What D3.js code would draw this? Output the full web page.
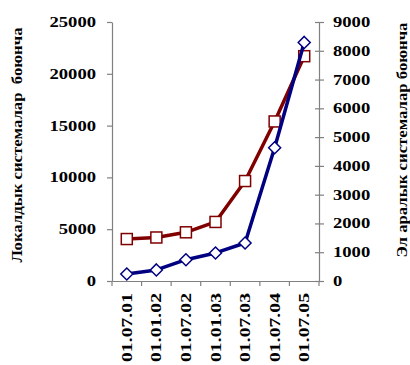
<!DOCTYPE html>
<html><head><meta charset="utf-8">
<script src="https://cdn.jsdelivr.net/npm/d3@7"></script>
<style>body{margin:0;background:#fff}svg{display:block}</style>
</head><body>
<script>
const categories = ["01.07.01","01.01.02","01.07.02","01.01.03","01.07.03","01.07.04","01.07.05"];
const localValues = [4050, 4200, 4700, 5700, 9650, 15400, 21700];
const intlValues = [245, 385, 740, 975, 1320, 4630, 8290];
const leftTicks = [0,5000,10000,15000,20000,25000];
const rightTicks = [0,1000,2000,3000,4000,5000,6000,7000,8000,9000];
const leftTitle = "Локалдык системалар  боюнча";
const rightTitle = "Эл аралык системалар боюнча";

const W = 410, H = 365;
const m = {l:112, r:319, t:22, b:281};
const svg = d3.select("body").append("svg").attr("width",W).attr("height",H);
const font = "'Liberation Serif','Times New Roman',serif";
const axisCol = "#808080";

const x = d3.scaleBand().domain(categories).range([m.l, m.r]).padding(0);
const yL = d3.scaleLinear().domain([0,25000]).range([m.b, m.t]);
const yR = d3.scaleLinear().domain([0,9000]).range([m.b, m.t]);

function styleAxis(g){
  g.select(".domain").attr("stroke", axisCol).attr("stroke-width",1.2);
  g.selectAll(".tick line").attr("stroke", axisCol).attr("stroke-width",1.2);
  g.selectAll("text").attr("font-family",font).attr("font-weight","bold").attr("font-size",14).attr("fill","#000");
}

// left axis
const gl = svg.append("g").attr("transform",`translate(${m.l},0)`)
  .call(d3.axisLeft(yL).tickValues(leftTicks).tickFormat(d=>String(d)).tickSize(5).tickPadding(11).tickSizeOuter(0));
styleAxis(gl);
gl.selectAll(".tick text").attr("textLength", d=>String(d).length*9.3).attr("lengthAdjust","spacingAndGlyphs");

// right axis
const gr = svg.append("g").attr("transform",`translate(${m.r},0)`)
  .call(d3.axisRight(yR).tickValues(rightTicks).tickFormat(d=>String(d)).tickSize(5).tickPadding(9).tickSizeOuter(0));
styleAxis(gr);
gr.selectAll(".tick line").attr("x1",-4);
gr.selectAll(".tick text").attr("textLength", d=>String(d).length*9.3).attr("lengthAdjust","spacingAndGlyphs");

// bottom axis
const gb = svg.append("g").attr("transform",`translate(0,${m.b})`)
  .call(d3.axisBottom(x).tickSize(0).tickFormat(""));
gb.select(".domain").attr("stroke", axisCol).attr("stroke-width",1.2);
gb.selectAll(".tick").remove();
const edges = categories.map(c=>x(c)).concat([x.range()[1]]);
gb.selectAll("line.edge").data(edges).enter().append("line")
  .attr("x1",d=>d).attr("x2",d=>d).attr("y1",0).attr("y2",5)
  .attr("stroke",axisCol).attr("stroke-width",1.2);
gb.selectAll("text.cat").data(categories).enter().append("text")
  .attr("transform",d=>`translate(${x(d)+x.bandwidth()/2},12) rotate(-90)`)
  .attr("text-anchor","end").attr("dy","0.36em")
  .attr("font-family",font).attr("font-weight","bold").attr("font-size",14).attr("fill","#000")
  .attr("textLength",69).attr("lengthAdjust","spacingAndGlyphs")
  .text(d=>d);

// titles
svg.append("text").attr("transform","translate(17,145) rotate(-90)")
  .attr("text-anchor","middle").attr("dy","0.36em")
  .attr("font-family",font).attr("font-weight","bold").attr("font-size",14).attr("fill","#000")
  .attr("textLength",235).attr("lengthAdjust","spacingAndGlyphs")
  .style("white-space","pre").text(leftTitle);
svg.append("text").attr("transform","translate(402,140) rotate(-90)")
  .attr("text-anchor","middle").attr("dy","0.36em")
  .attr("font-family",font).attr("font-weight","bold").attr("font-size",14).attr("fill","#000")
  .attr("textLength",235).attr("lengthAdjust","spacingAndGlyphs")
  .text(rightTitle);

const cx = d => x(d)+x.bandwidth()/2;

// local series (left axis)
const redC = "#800000", blueC = "#000080";
svg.append("path").datum(localValues)
  .attr("d", d3.line().x((d,i)=>cx(categories[i])).y(d=>yL(d)))
  .attr("fill","none").attr("stroke",redC).attr("stroke-width",3.5).attr("stroke-linejoin","round");
svg.selectAll("rect.sq").data(localValues).enter().append("rect")
  .attr("x",(d,i)=>cx(categories[i])-5.5).attr("y",d=>yL(d)-5.5)
  .attr("width",11).attr("height",11)
  .attr("fill","#fff").attr("stroke",redC).attr("stroke-width",1.5);

// international series (right axis)
svg.append("path").datum(intlValues)
  .attr("d", d3.line().x((d,i)=>cx(categories[i])).y(d=>yR(d)))
  .attr("fill","none").attr("stroke",blueC).attr("stroke-width",3.5).attr("stroke-linejoin","round");
svg.selectAll("path.dm").data(intlValues).enter().append("path")
  .attr("d",(d,i)=>{const px=cx(categories[i]), py=yR(d), r=6;
    return `M${px},${py-r}L${px+r},${py}L${px},${py+r}L${px-r},${py}Z`;})
  .attr("fill","#fff").attr("stroke",blueC).attr("stroke-width",1.5);
</script>
</body></html>
